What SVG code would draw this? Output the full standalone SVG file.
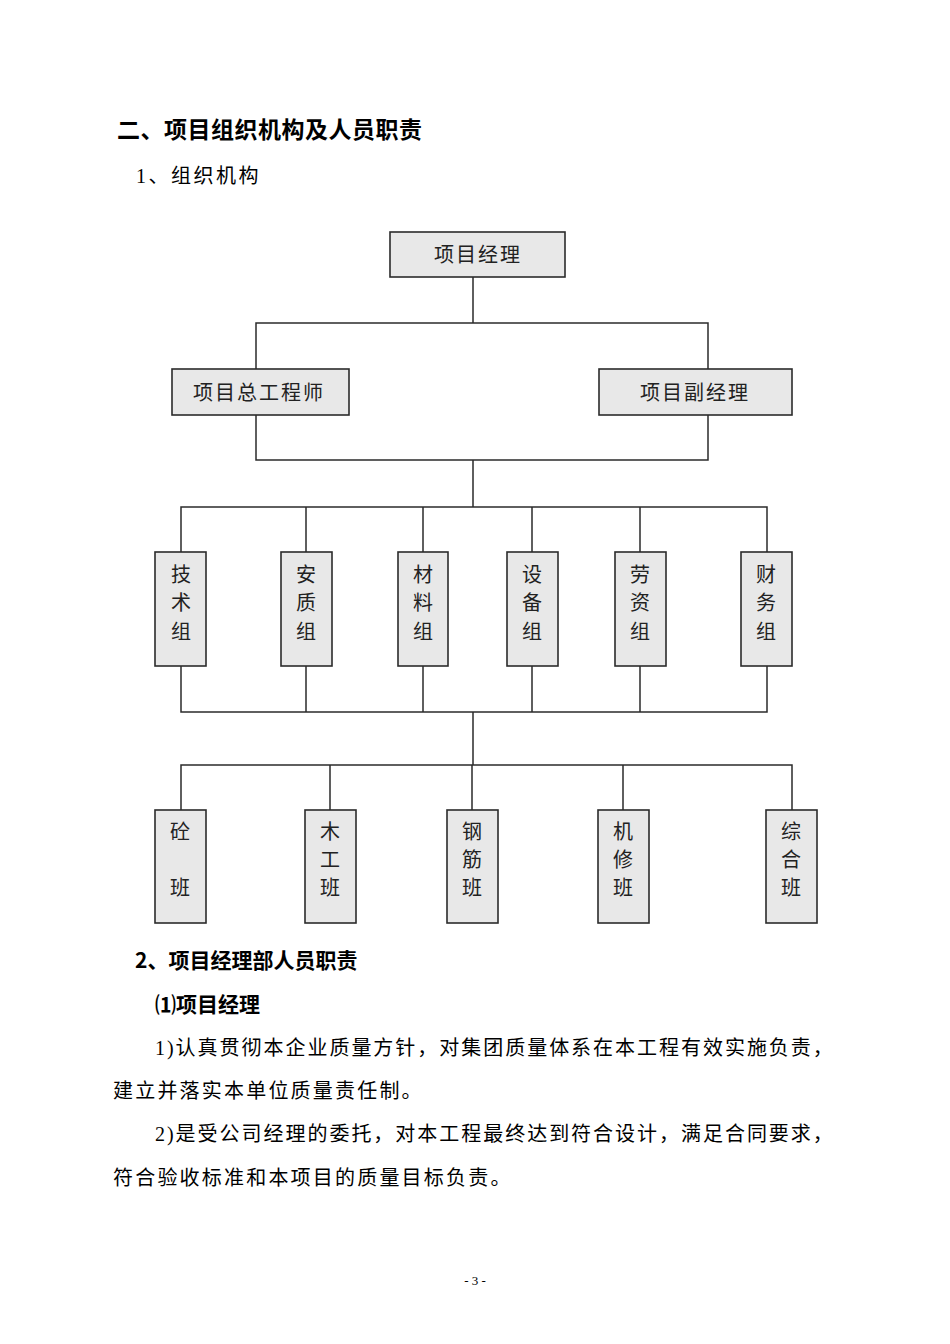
<svg xmlns="http://www.w3.org/2000/svg" width="950" height="1344" viewBox="0 0 950 1344">
<style>
.bg{fill:#ffffff}
.box{fill:#e8e8e8;stroke:#2b2b2b;stroke-width:1.6}
.conn{fill:none;stroke:#2b2b2b;stroke-width:1.5}
.lbl{font-family:"Noto Sans CJK SC","Noto Sans",sans-serif;font-size:20px;fill:#222;letter-spacing:2px}
.vlbl{font-family:"Noto Sans CJK SC","Noto Sans",sans-serif;font-size:20px;fill:#222;text-anchor:middle}
.h1{font-family:"Noto Sans CJK SC","Noto Sans",sans-serif;font-size:23px;font-weight:bold;fill:#000;letter-spacing:0.5px}
.h2{font-family:"Liberation Serif","Noto Sans CJK SC",serif;font-size:20px;fill:#000;letter-spacing:2.5px}
.h3{font-family:"Noto Sans CJK SC","Noto Sans",sans-serif;font-size:21px;font-weight:bold;fill:#000}
.body{font-family:"Liberation Serif","Noto Sans CJK SC",serif;font-size:20px;fill:#000;letter-spacing:2.2px}
.pg{font-family:"Liberation Serif",serif;font-size:13px;fill:#000;text-anchor:middle}
</style>
<rect class="bg" x="0" y="0" width="950" height="1344"/>

<text class="h1" x="117" y="138">二、项目组织机构及人员职责</text>
<text class="h2" x="136" y="183">1、组织机构</text>

<g id="connectors">
<path class="conn" d="M473 277V323M256 369V323H708V369"/>
<path class="conn" d="M256 415V460H708V415M473 460V507"/>
<path class="conn" d="M181 552V507H767V552M306 507V552M423 507V552M532 507V552M640 507V552"/>
<path class="conn" d="M181 666V712H767V666M306 666V712M423 666V712M532 666V712M640 666V712M473 712V765"/>
<path class="conn" d="M181 810V765H792V810M330 765V810M472 765V810M623 765V810"/>
</g>

<g id="n-pm"><rect class="box" x="390" y="232" width="175" height="45"/><text class="lbl" x="434" y="262">项目经理</text></g>
<g id="n-chief"><rect class="box" x="172" y="369" width="177" height="46"/><text class="lbl" x="193" y="400">项目总工程师</text></g>
<g id="n-deputy"><rect class="box" x="599" y="369" width="193" height="46"/><text class="lbl" x="640" y="400">项目副经理</text></g>

<g id="n-tech"><rect class="box" x="155" y="552" width="51" height="114"/><text class="vlbl" x="181" y="582">技</text><text class="vlbl" x="181" y="610">术</text><text class="vlbl" x="181" y="639">组</text></g>
<g id="n-safety"><rect class="box" x="281" y="552" width="51" height="114"/><text class="vlbl" x="306" y="582">安</text><text class="vlbl" x="306" y="610">质</text><text class="vlbl" x="306" y="639">组</text></g>
<g id="n-material"><rect class="box" x="398" y="552" width="50" height="114"/><text class="vlbl" x="423" y="582">材</text><text class="vlbl" x="423" y="610">料</text><text class="vlbl" x="423" y="639">组</text></g>
<g id="n-equip"><rect class="box" x="507" y="552" width="51" height="114"/><text class="vlbl" x="532" y="582">设</text><text class="vlbl" x="532" y="610">备</text><text class="vlbl" x="532" y="639">组</text></g>
<g id="n-labor"><rect class="box" x="615" y="552" width="51" height="114"/><text class="vlbl" x="640" y="582">劳</text><text class="vlbl" x="640" y="610">资</text><text class="vlbl" x="640" y="639">组</text></g>
<g id="n-finance"><rect class="box" x="741" y="552" width="51" height="114"/><text class="vlbl" x="766" y="582">财</text><text class="vlbl" x="766" y="610">务</text><text class="vlbl" x="766" y="639">组</text></g>

<g id="n-concrete"><rect class="box" x="155" y="810" width="51" height="113"/><text class="vlbl" x="180" y="839">砼</text><text class="vlbl" x="180" y="895">班</text></g>
<g id="n-carpentry"><rect class="box" x="305" y="810" width="51" height="113"/><text class="vlbl" x="330" y="839">木</text><text class="vlbl" x="330" y="867">工</text><text class="vlbl" x="330" y="895">班</text></g>
<g id="n-rebar"><rect class="box" x="447" y="810" width="51" height="113"/><text class="vlbl" x="472" y="839">钢</text><text class="vlbl" x="472" y="867">筋</text><text class="vlbl" x="472" y="895">班</text></g>
<g id="n-repair"><rect class="box" x="598" y="810" width="51" height="113"/><text class="vlbl" x="623" y="839">机</text><text class="vlbl" x="623" y="867">修</text><text class="vlbl" x="623" y="895">班</text></g>
<g id="n-general"><rect class="box" x="766" y="810" width="51" height="113"/><text class="vlbl" x="791" y="839">综</text><text class="vlbl" x="791" y="867">合</text><text class="vlbl" x="791" y="895">班</text></g>

<text class="h3" x="135" y="968">2、项目经理部人员职责</text>
<text class="h3" x="155" y="1012">⑴项目经理</text>
<text class="body" x="155" y="1055" textLength="680" lengthAdjust="spacing">1)认真贯彻本企业质量方针，对集团质量体系在本工程有效实施负责，</text>
<text class="body" x="113" y="1098">建立并落实本单位质量责任制。</text>
<text class="body" x="155" y="1141" textLength="680" lengthAdjust="spacing">2)是受公司经理的委托，对本工程最终达到符合设计，满足合同要求，</text>
<text class="body" x="113" y="1185">符合验收标准和本项目的质量目标负责。</text>

<text class="pg" x="475" y="1285">- 3 -</text>
</svg>
